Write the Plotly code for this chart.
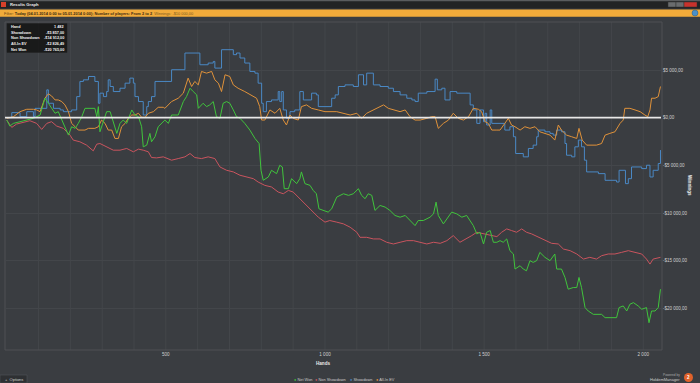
import plotly.graph_objects as go

W, H = 700, 383

# ---------------- data (hands, winnings $) ----------------
sd_hands = [0, 16, 42, 63, 84, 89, 126, 131, 147, 168, 178, 204, 220, 230, 241, 257, 277, 288, 293, 304, 314, 319, 325, 335, 356, 372, 387, 398, 403, 414, 429, 440, 445, 455, 466,
            518, 560, 607, 633, 649, 654, 675, 712, 722, 733, 748, 764, 780, 790, 801, 806, 816, 832, 853, 858, 864, 869, 879, 890, 905, 921, 932, 958, 973, 979, 1021,
            1032, 1042, 1063, 1089, 1105, 1121, 1131, 1152, 1173, 1199, 1215, 1236, 1257, 1273, 1283, 1293, 1320, 1346, 1353, 1367, 1377, 1393, 1414, 1456, 1466, 1477, 1487, 1498, 1503, 1508, 1519, 1524,
            1565, 1581, 1592, 1599, 1623, 1639, 1654, 1665, 1670, 1691, 1707, 1717, 1728, 1743, 1754, 1759, 1775, 1785, 1796, 1806, 1815, 1822, 1859, 1880, 1916, 1924, 1944, 1953, 1963, 1995, 2010, 2021, 2031, 2047, 2054]
sd_values = [0, 530, 100, 630, 100, 980, 2920, 1510, 980, 810, 630, 810, 2210, 3800, 3970, 4320, 3800, 1510, 2570, 2210, 2740, 3970, 3270, 2740, 3090, 3620, 4150, 3620, 2210, 1690, 280, 1160, 1690, 2210, 3800,
             5030, 6780, 5550, 5730, 5900, 5200, 7130, 6610, 6780, 6260, 5730, 4850, 4670, 3620, 1510, 630, 1690, 1860, 2740, 1690, 2740, 810, -70, 630, 810, 2740, 1860, 2570, 2390, 1160, 2040,
             2390, 3270, 3440, 3270, 4500, 3440, 4670, 3440, 3270, 3090, 2740, 2390, 2040, 1860, 1690, 2570, 2740, 4040, 2920, 3090, 1860, 2740, 2570, 1340, 810, -600, 810, -420, 460, -770, 810, -600,
             -1300, -950, -2000, -3760, -4110, -3230, -2880, -2000, -1300, -1480, -1650, -1830, -1300, -1480, -2710, -3940, -4110, -3060, -2350, -3060, -4460, -5690, -5870, -6570, -6750, -5520, -6920, -6400, -5170, -5340, -4990, -6220, -5520, -4810, -3400]

ev_hands = [0, 21, 42, 63, 84, 94, 105, 120, 131, 141, 152, 162, 173, 183, 194, 204, 215, 225, 246, 257, 277, 288, 298, 309, 319, 330, 340, 351, 361, 372, 382, 393, 403, 414, 424, 435, 445, 461, 476, 492,
            497, 518, 539, 555, 570, 581, 591, 602, 612, 628, 644, 654, 665, 675, 686, 701, 712, 727, 748, 769, 785, 795, 801, 811, 827, 843, 858, 869, 879, 890, 900, 916, 926, 942, 958, 979, 1000,
            1037, 1058, 1079, 1100, 1115, 1131, 1152, 1173, 1184, 1199, 1220, 1236, 1252, 1267, 1283, 1299, 1320, 1335, 1346, 1356, 1372, 1388, 1403, 1419, 1435, 1451, 1466, 1482, 1492, 1503, 1513, 1524, 1540,
            1550, 1565, 1576, 1586, 1597, 1613, 1628, 1644, 1660, 1675, 1691, 1707, 1722, 1733, 1743, 1759, 1775, 1791, 1798, 1808, 1822, 1853, 1869, 1880, 1895, 1911, 1927, 1937, 1942, 1958, 1974, 1990, 2005, 2014, 2021, 2026, 2037, 2047, 2054]
ev_values = [-70, 100, 630, 880, 880, 810, 630, 2040, 2500, 2280, 1860, 1860, 1690, 1340, 630, -600, -950, -1300, -1300, -1120, -1120, -950, -250, -600, -1300, -1300, -2180, -2180, -950, -600, -70, 280, 280, 460, 35, 35, 460, 630, 1090, 1090,
             980, 1690, 2040, 2570, 4150, 3270, 3800, 3440, 4850, 4670, 4850, 3970, 3620, 2740, 4500, 4320, 3440, 3090, 2740, 2390, 2040, 1160, -250, -250, 810, 460, 980, -250, -770, 280, -70, -250, 1160, 1340, 980, 810, 630,
             630, 460, 280, 460, -70, 460, 810, 1160, 1340, 980, 810, 630, 810, 105, -250, -250, -70, 105, 105, -1120, -600, -250, 460, -70, -250, 105, 980, 880, 630, -420, -600, -1300, -1300,
             -1300, -600, -70, -770, -950, -1300, -950, -1120, -950, -1480, -1650, -1830, -2350, -770, -1300, -1830, -2000, -2180, -1120, -2350, -2880, -2880, -2710, -1830, -1650, -1480, -600, -250, 980, 980, 810, 630, 280, 105, 810, 2040, 2040, 2210, 3270]

nw_hands = [0, 10, 21, 42, 63, 84, 105, 120, 131, 141, 152, 162, 173, 183, 194, 204, 215, 225, 236, 246, 277, 283, 288, 293, 304, 314, 325, 335, 346, 356, 366, 377, 393, 403, 414, 424, 429, 440, 450, 455, 466, 476, 492,
            497, 508, 518, 539, 555, 565, 576, 586, 597, 602, 617, 628, 638, 649, 659, 670, 680, 691, 701, 712, 722, 733, 748, 764, 780, 793, 799, 806, 822, 832, 848, 858, 866, 872, 885, 895, 911, 921, 926, 937, 953, 963, 973, 981, 994, 1010, 1021, 1031,
            1037, 1058, 1074, 1089, 1105, 1115, 1126, 1136, 1147, 1157, 1173, 1189, 1204, 1220, 1236, 1252, 1267, 1283, 1293, 1309, 1330, 1341, 1349, 1356, 1372, 1388, 1398, 1414, 1430, 1445, 1456, 1466, 1477, 1487, 1498, 1508, 1519, 1529, 1540,
            1550, 1560, 1571, 1581, 1592, 1597, 1613, 1623, 1633, 1644, 1654, 1665, 1675, 1691, 1707, 1722, 1728, 1743, 1754, 1764, 1780, 1791, 1798, 1806, 1817, 1827, 1843, 1869, 1880, 1916, 1924, 1937, 1948, 1958, 1969, 1984, 1995, 2010, 2018, 2026, 2037, 2047, 2054]
nw_values = [-250, -880, -600, -420, -250, -70, 280, 2040, 1510, 980, 460, 630, -250, -950, -1830, -950, -1120, -600, 105, 980, 980, 105, 1160, -1480, -250, 630, 630, -600, -1650, -600, -250, -600, 810, 280, 105, -950, -3060, -2880, -1650, -2530, -2000, -950, -420,
             -250, -600, 280, 280, 1690, 2210, 3090, 2740, 2390, 980, 1510, 1160, 1340, 1690, 105, -70, 1510, 1690, 1510, 810, 105, -70, -600, -1300, -2180, -2710, -5520, -6570, -6220, -5520, -5870, -4990, -5170, -7450, -7450, -6400, -6920, -6400, -5690, -6920, -7100, -7630, -7980, -9560, -9730, -9910, -9560, -8680,
             -8330, -7980, -8150, -7980, -7450, -8150, -8500, -7980, -8150, -9730, -9210, -9380, -9730, -10260, -10440, -10260, -10790, -11320, -10790, -10790, -10440, -10090, -8860, -10260, -11140, -10440, -9910, -10090, -10440, -10260, -10790, -11320, -12190, -12020, -13250, -12020, -11840, -13070, -13070,
             -12900, -13070, -12720, -13950, -14300, -15880, -15530, -15880, -16060, -15000, -15180, -15000, -14130, -14650, -15000, -14300, -15880, -15880, -16760, -17990, -17820, -17820, -16760, -17820, -19920, -20280, -20630, -20630, -20980, -20980, -19920, -19750, -20280, -19570, -19400, -19750, -20100, -19920, -21510, -20280, -20280, -19920, -17990]

ns_hands = [0, 16, 31, 52, 73, 94, 110, 126, 141, 157, 178, 199, 209, 230, 251, 272, 283, 293, 314, 335, 356, 377, 398, 414, 429, 445, 455, 471, 492,
            518, 539, 560, 576, 591, 612, 633, 654, 670, 691, 712, 733, 754, 775, 790, 811, 832, 853, 869, 885, 900, 916, 937, 958, 979, 1000, 1015,
            1037, 1058, 1079, 1100, 1110, 1131, 1152, 1173, 1194, 1215, 1236, 1257, 1278, 1299, 1320, 1341, 1362, 1383, 1403, 1424, 1445, 1461, 1477, 1498, 1519, 1540,
            1555, 1571, 1586, 1602, 1618, 1633, 1649, 1670, 1691, 1712, 1733, 1749, 1770, 1791, 1812, 1832, 1853, 1869, 1890, 1911, 1932, 1953, 1974, 1995, 2010, 2021, 2031, 2047, 2054]
ns_values = [-250, -1020, -670, -530, -320, -600, -1230, -600, -420, -880, -1120, -1830, -2350, -2530, -2880, -3480, -2780, -2710, -3060, -3410, -3410, -3230, -3580, -3300, -3410, -3580, -4180, -4220, -4110,
             -4460, -4290, -4110, -3760, -4180, -4290, -4110, -4290, -5170, -5520, -5690, -6040, -6220, -6400, -6750, -7100, -7270, -7800, -7980, -7630, -7800, -8330, -9030, -9730, -10440, -10960, -10790,
             -10960, -11140, -11490, -12020, -12550, -12550, -12720, -12720, -13070, -13250, -13070, -12900, -12900, -13070, -13250, -13070, -13180, -12900, -12370, -13070, -12720, -12370, -12020, -12190, -12370, -12480,
             -12020, -11670, -11840, -12020, -11670, -12020, -12190, -12550, -12900, -13180, -13250, -13780, -13950, -14300, -14830, -14650, -14830, -14480, -14300, -14300, -14130, -13950, -14130, -14300, -14830, -15360, -14830, -14650, -14650]

x_tick_vals = [500, 1000, 1500, 2000]
x_tick_text = ["500", "1 000", "1 500", "2 000"]
y_tick_vals = [5000, 0, -5000, -10000, -15000, -20000]
y_tick_text = ["$5 000,00", "$0,00", "-$5 000,00", "-$10 000,00", "-$15 000,00", "-$20 000,00"]

legend_names = ["Net Won", "Non Showdown", "Showdown", "All-In EV"]
tooltip_labels = ["Hand", "Showdown", "Non Showdown", "All-In EV", "Net Won"]
tooltip_values = ["1 482", "-$5 857,00", "-$14 912,00", "-$2 826,49", "-$20 765,00"]

filter_text = "Today (04.01.2014 0:00 to 05.01.2014 0:00); Number of players: From 2 to 2"
filter_winnings = "Winnings: -$10 000,00"

# ---------------- styles ----------------
BG = "#3a3d41"
GRID = "#43464a"
COL = {"Net Won": "#40c43c", "Non Showdown": "#c9545e", "Showdown": "#4a88c4", "All-In EV": "#e0923a"}
FONT = "Liberation Sans"


def px(x):
    return x / W


def py(y):
    return 1 - y / H


fig = go.Figure()
series = [("Showdown", sd_hands, sd_values, "hv"),
          ("All-In EV", ev_hands, ev_values, "linear"),
          ("Non Showdown", ns_hands, ns_values, "linear"),
          ("Net Won", nw_hands, nw_values, "linear")]
for name, xs, ys, shape in series:
    fig.add_trace(go.Scatter(x=xs, y=ys, mode="lines", name=name, showlegend=False,
                             line=dict(color=COL[name], width=1, shape=shape), hoverinfo="skip"))

plot_l, plot_r, plot_t, plot_b = 5, 662, 22, 350

fig.update_layout(
    width=W, height=H, margin=dict(l=0, r=0, t=0, b=0),
    paper_bgcolor=BG, plot_bgcolor=BG,
    font=dict(family=FONT, color="#d8d8d8", size=4.4),
    hovermode=False, dragmode=False,
    xaxis=dict(domain=[px(plot_l), px(plot_r)], range=[-5.3, 2058.8],
               tickvals=x_tick_vals, ticktext=x_tick_text, ticks="", showline=False,
               showgrid=False, zeroline=False, tickfont=dict(size=4.6, color="#d0d0d0")),
    yaxis=dict(domain=[py(plot_b), py(plot_t)], range=[-24371, 10036], side="right",
               tickvals=y_tick_vals, ticktext=y_tick_text, ticks="", showline=False,
               showgrid=True, gridcolor=GRID, gridwidth=1, zeroline=False,
               tickfont=dict(size=4.5, color="#d0d0d0")),
)

shapes = []
# vertical grid lines every 100 hands
for h in range(100, 2001, 100):
    shapes.append(dict(type="line", xref="x", yref="paper", x0=h, x1=h, y0=py(plot_b), y1=py(plot_t),
                       line=dict(color=GRID, width=1), layer="below"))
# plot border
shapes.append(dict(type="rect", xref="paper", yref="paper", x0=px(plot_l), x1=px(plot_r), y0=py(plot_b), y1=py(plot_t),
                   line=dict(color="#4e5155", width=1), layer="below"))
# zero line (white)
shapes.append(dict(type="line", xref="paper", yref="y", x0=px(plot_l), x1=px(plot_r - 1), y0=0, y1=0,
                   line=dict(color="#e8e8e8", width=1.6), layer="above"))
# title bar
shapes.append(dict(type="rect", xref="paper", yref="paper", x0=0, x1=1, y0=py(8.5), y1=1,
                   line=dict(width=0), fillcolor="#222324", layer="above"))
shapes.append(dict(type="rect", xref="paper", yref="paper", x0=0, x1=1, y0=py(1.2), y1=1,
                   line=dict(width=0), fillcolor="#5a5c5e", layer="above"))
# window buttons
for x0, x1, c in [(668, 676, "#6a6c6e"), (676, 684, "#6a6c6e"), (684, 697, "#c8322c")]:
    shapes.append(dict(type="rect", xref="paper", yref="paper", x0=px(x0), x1=px(x1), y0=py(7), y1=py(2),
                       line=dict(color="#333", width=0.5), fillcolor=c, layer="above"))
# red app icon
shapes.append(dict(type="rect", xref="paper", yref="paper", x0=px(1), x1=px(6), y0=py(7), y1=py(2),
                   line=dict(width=0), fillcolor="#d8402a", layer="above"))
# orange filter bar
shapes.append(dict(type="rect", xref="paper", yref="paper", x0=0, x1=1, y0=py(16.8), y1=py(9.5),
                   line=dict(width=0), fillcolor="#f2ab3a", layer="above"))
# help icon
shapes.append(dict(type="circle", xref="paper", yref="paper", x0=px(692), x1=px(698), y0=py(16), y1=py(10),
                   line=dict(color="#2c5a80", width=0.5), fillcolor="#4a90c8", layer="above"))
# tooltip box
shapes.append(dict(type="rect", xref="paper", yref="paper", x0=px(7), x1=px(67), y0=py(52.5), y1=py(23.5),
                   line=dict(color="#222", width=0.5), fillcolor="rgba(20,20,20,0.85)", layer="above"))
# options button
shapes.append(dict(type="rect", xref="paper", yref="paper", x0=0, x1=px(27), y0=0, y1=py(375),
                   line=dict(color="#55585c", width=0.5), fillcolor="#2e3033", layer="above"))
# logo circle
shapes.append(dict(type="circle", xref="paper", yref="paper", x0=px(684), x1=px(693), y0=py(382), y1=py(373),
                   line=dict(width=0), fillcolor="#e0622a", layer="above"))
fig.update_layout(shapes=shapes)

ann = []
ann.append(dict(x=px(8), y=py(4.5), xref="paper", yref="paper", text="<b>Results Graph</b>", showarrow=False,
                xanchor="left", yanchor="middle", font=dict(size=4.2, color="#e8e8e8")))
ann.append(dict(x=px(2), y=py(13.2), xref="paper", yref="paper",
                text="<span style='color:#6a4a18'>Filter:</span> <b>" + filter_text + "</b>  <span style='color:#7a5a20'>" + filter_winnings + "</span>",
                showarrow=False, xanchor="left", yanchor="middle", font=dict(size=3.9, color="#3a2a10")))
for i, (lab, val) in enumerate(zip(tooltip_labels, tooltip_values)):
    yy = 26.8 + i * 5.7
    ann.append(dict(x=px(9), y=py(yy), xref="paper", yref="paper", text="<b>" + lab + "</b>", showarrow=False,
                    xanchor="left", yanchor="middle", font=dict(size=3.8, color="#f0f0f0")))
    ann.append(dict(x=px(66), y=py(yy), xref="paper", yref="paper", text="<b>" + val + "</b>", showarrow=False,
                    xanchor="right", yanchor="middle", font=dict(size=3.8, color="#f0f0f0")))
ann.append(dict(x=px(690), y=py(185), xref="paper", yref="paper", text="<b>Winnings</b>", showarrow=False,
                textangle=90, xanchor="center", yanchor="middle", font=dict(size=4.6, color="#f0f0f0")))
ann.append(dict(x=px(323), y=py(363), xref="paper", yref="paper", text="<b>Hands</b>", showarrow=False,
                xanchor="center", yanchor="middle", font=dict(size=4.6, color="#e8e8e8")))
# legend (bottom center)
lx = [292, 313, 348, 374]
for x0, name in zip(lx, legend_names):
    ann.append(dict(x=px(x0), y=py(379), xref="paper", yref="paper",
                    text="<span style='color:%s'>●</span> %s" % (COL[name], name), showarrow=False,
                    xanchor="left", yanchor="middle", font=dict(size=3.9, color="#c8c8c8")))
ann.append(dict(x=px(3), y=py(379), xref="paper", yref="paper", text="+  Options", showarrow=False,
                xanchor="left", yanchor="middle", font=dict(size=4, color="#d0d0d0")))
ann.append(dict(x=px(682), y=py(374.8), xref="paper", yref="paper", text="Powered by", showarrow=False,
                xanchor="right", yanchor="middle", font=dict(size=3.2, color="#aaaaaa")))
ann.append(dict(x=px(682), y=py(379.5), xref="paper", yref="paper", text="HoldemManager", showarrow=False,
                xanchor="right", yanchor="middle", font=dict(size=4, color="#cccccc")))
ann.append(dict(x=px(688.5), y=py(377.5), xref="paper", yref="paper", text="<b>2</b>", showarrow=False,
                xanchor="center", yanchor="middle", font=dict(size=4.5, color="#ffffff")))
fig.update_layout(annotations=ann)

fig.write_html("out.html",
               config={"displayModeBar": False, "staticPlot": True},
               post_script="document.body.style.margin='0px';document.body.style.padding='0px';"
                           "document.body.style.overflow='hidden';")
